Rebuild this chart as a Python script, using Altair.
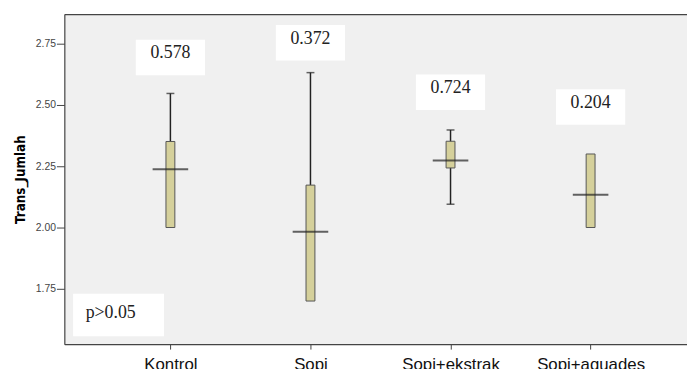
import altair as alt
import pandas as pd

groups = ["Kontrol", "Sopi", "Sopi+ekstrak", "Sopi+aquades"]
mins = [2.00, 1.70, 2.095, 2.00]
q1s = [2.00, 1.70, 2.243, 2.00]
medians = [2.238, 1.983, 2.273, 2.134]
q3s = [2.351, 2.173, 2.352, 2.300]
maxs = [2.547, 2.632, 2.398, 2.300]
p_labels = ["0.578", "0.372", "0.724", "0.204"]
p_label_y = [2.694, 2.754, 2.552, 2.492]
note_text = ["p>0.05"]
note_x = [-0.37]
note_y = [1.643]
y_ticks = [1.75, 2.00, 2.25, 2.50, 2.75]

df = pd.DataFrame({
    "idx": list(range(len(groups))), "group": groups,
    "lo": mins, "q1": q1s, "med": medians, "q3": q3s, "hi": maxs,
    "p": p_labels, "py": p_label_y,
})

cap_rows = []
for i in range(len(groups)):
    if maxs[i] > q3s[i]:
        cap_rows.append({"idx": i, "v": maxs[i]})
    if mins[i] < q1s[i]:
        cap_rows.append({"idx": i, "v": mins[i]})
caps = pd.DataFrame(cap_rows)
note = pd.DataFrame({"x": note_x, "y": note_y, "t": note_text})

X_DOMAIN = [-0.722, 3.653]
xscale = alt.Scale(domain=X_DOMAIN, nice=False, zero=False)
yscale = alt.Scale(domain=[1.524, 2.871], nice=False, zero=False)

label_expr = "[" + ",".join("'%s'" % g for g in groups) + "][datum.value]"

x_bottom = alt.X("idx:Q", scale=xscale, axis=alt.Axis(
    values=list(range(len(groups))), labelExpr=label_expr, title=None, grid=False,
    labelFont="Liberation Sans", labelFontSize=17, labelColor="#111",
    tickSize=5, labelPadding=8, domainColor="#444", tickColor="#444",
    domainWidth=1.2, labelFlush=False))
y_enc = dict(scale=yscale, axis=alt.Axis(
    values=y_ticks, format=".2f", title="Trans_Jumlah", grid=False,
    labelFont="Liberation Sans", labelFontSize=10.5, labelColor="#444",
    tickSize=8, labelPadding=1, domainColor="#444", tickColor="#444",
    domainWidth=1.2,
    titleFont="Liberation Sans Narrow, Arial Narrow, DejaVu Sans Condensed, Liberation Sans",
    titleFontSize=13.5, titleFontWeight="bold", titleColor="#000", titlePadding=8))

base = alt.Chart(df)

whisk = base.mark_rule(color="#222", strokeWidth=1.5).encode(
    x=x_bottom, y=alt.Y("lo:Q", **y_enc), y2="hi:Q")

cap = alt.Chart(caps).mark_tick(orient="horizontal", size=8, thickness=1.5, color="#222").encode(
    x=alt.X("idx:Q", scale=xscale), y=alt.Y("v:Q", scale=yscale))

box = base.mark_bar(size=9, fill="#d5d09b", stroke="#555", strokeWidth=1).encode(
    x=alt.X("idx:Q", scale=xscale), y=alt.Y("q1:Q", scale=yscale), y2="q3:Q")

med = base.mark_tick(orient="horizontal", size=36, thickness=2, color="#222").encode(
    x=alt.X("idx:Q", scale=xscale), y=alt.Y("med:Q", scale=yscale))

rects = base.mark_point(shape="M-1,-0.514L1,-0.514L1,0.514L-1,0.514Z", size=4900,
                        filled=True, fill="#ffffff", opacity=1, strokeWidth=0).encode(
    x=alt.X("idx:Q", scale=xscale), y=alt.Y("py:Q", scale=yscale))

texts = base.mark_text(font="Liberation Serif", fontSize=18, dy=-4, color="#222").encode(
    x=alt.X("idx:Q", scale=xscale), y=alt.Y("py:Q", scale=yscale), text="p:N")

note_rect = alt.Chart(note).mark_point(shape="M-1,-0.467L1,-0.467L1,0.467L-1,0.467Z", size=8464,
                                       filled=True, fill="#ffffff", opacity=1, strokeWidth=0).encode(
    x=alt.X("x:Q", scale=xscale), y=alt.Y("y:Q", scale=yscale))
note_text_l = alt.Chart(note).mark_text(font="Liberation Serif", fontSize=18, dx=-8, dy=-2,
                                        color="#222").encode(
    x=alt.X("x:Q", scale=xscale), y=alt.Y("y:Q", scale=yscale), text="t:N")

main = alt.layer(whisk, rects, cap, box, med, texts, note_rect, note_text_l)

# top frame line: an axis on the same domain, drawn from its own (identical) scale
top_frame = alt.Chart(note).mark_point(opacity=0).encode(
    x=alt.X("x:Q", scale=alt.Scale(domain=X_DOMAIN, nice=False, zero=False),
            axis=alt.Axis(orient="top", labels=False, ticks=False, title=None, grid=False,
                          domainColor="#444", domainWidth=1.2)),
    y=alt.Y("y:Q", scale=yscale))

chart = alt.layer(main, top_frame).resolve_scale(x="independent").properties(
    width=630, height=334,
    autosize=alt.AutoSizeParams(type="none"),
    padding={"left": 57, "top": 4, "right": 0, "bottom": 23},
    background="#ffffff",
).configure_view(stroke=None, fill="#f0f0f0")

chart.save("out.html", embed_options={"renderer": "svg", "actions": False})
